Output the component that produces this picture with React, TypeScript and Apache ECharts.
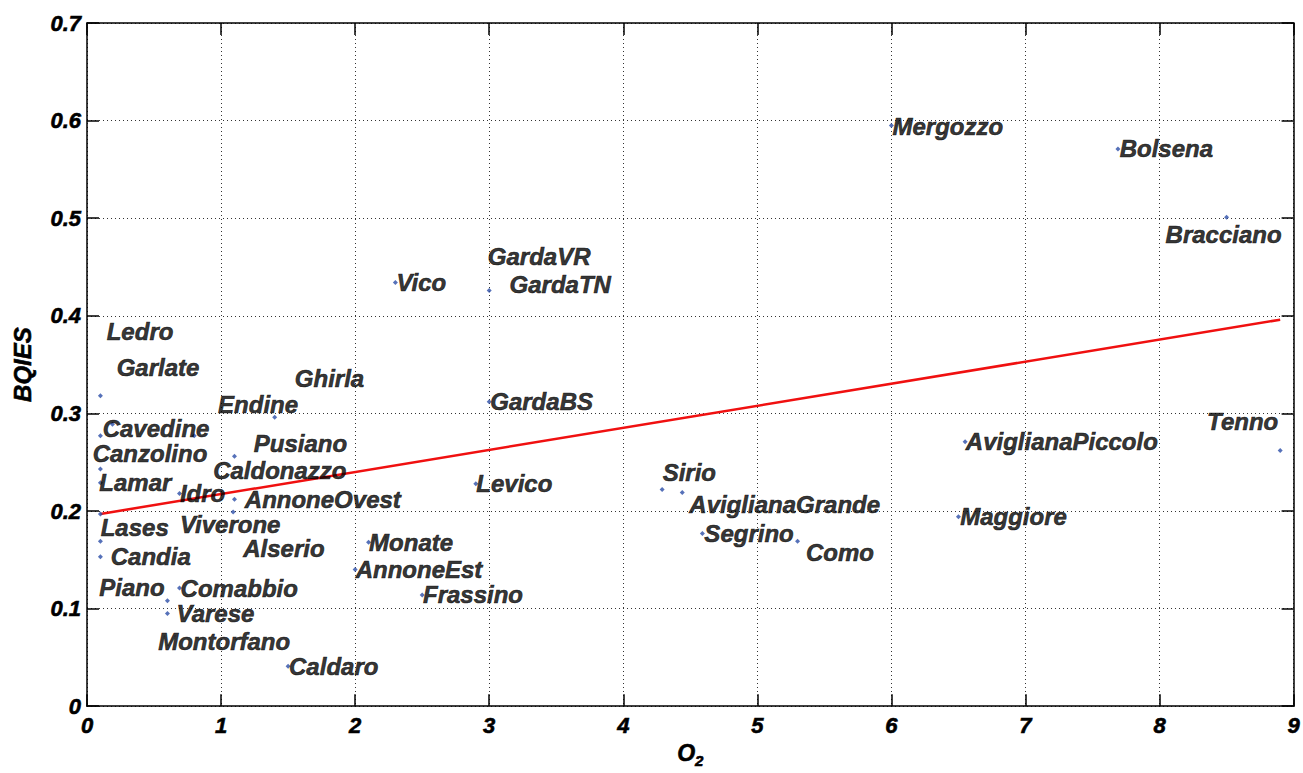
import React, { useEffect, useRef } from "react";
import * as echarts from "echarts";

// Measured lakes (O2, BQIES)
const pointX = [0.1, 0.19, 0.1, 0.8, 1.4, 1.1, 0.1, 0.1, 0.69, 1.1, 1.09, 0.1, 0.1, 0.1, 0.69, 0.6, 0.6, 1.5, 2.1, 2.0, 2.3, 3.0, 3.0, 2.9, 2.5, 4.29, 4.44, 4.59, 5.3, 6.0, 7.69, 8.5, 6.55, 8.9, 6.5];
const pointY = [0.318, 0.289, 0.277, 0.277, 0.296, 0.256, 0.243, 0.229, 0.218, 0.212, 0.199, 0.197, 0.169, 0.153, 0.121, 0.108, 0.095, 0.041, 0.168, 0.14, 0.434, 0.426, 0.312, 0.228, 0.114, 0.222, 0.219, 0.177, 0.169, 0.595, 0.571, 0.501, 0.271, 0.262, 0.194];

// Lake names and where their labels were placed
const labelNames = ["Ledro", "Garlate", "Ghirla", "Endine", "Cavedine", "Canzolino", "Pusiano", "Caldonazzo", "Lamar", "Idro", "AnnoneOvest", "Lases", "Viverone", "Alserio", "Candia", "Piano", "Comabbio", "Varese", "Montorfano", "Caldaro", "GardaVR", "Vico", "GardaTN", "GardaBS", "Levico", "Monate", "AnnoneEst", "Frassino", "Sirio", "AviglianaGrande", "Segrino", "Como", "Mergozzo", "Bolsena", "Bracciano", "Tenno", "AviglianaPiccolo", "Maggiore"];
const labelX = [0.147, 0.221, 1.55, 0.978, 0.117, 0.042, 1.244, 0.941, 0.092, 0.693, 1.177, 0.102, 0.693, 1.165, 0.177, 0.092, 0.698, 0.668, 0.531, 1.507, 2.99, 2.308, 3.152, 3.008, 2.904, 2.104, 2.004, 2.506, 4.294, 4.493, 4.605, 5.363, 6.008, 7.703, 8.045, 8.355, 6.555, 6.513];
const labelY = [0.384, 0.347, 0.336, 0.309, 0.285, 0.259, 0.269, 0.241, 0.229, 0.218, 0.212, 0.183, 0.186, 0.162, 0.153, 0.122, 0.121, 0.095, 0.066, 0.041, 0.461, 0.434, 0.432, 0.312, 0.228, 0.168, 0.14, 0.114, 0.239, 0.207, 0.177, 0.157, 0.594, 0.571, 0.483, 0.292, 0.271, 0.194];

// Regression line endpoints
const fitX = [0.1, 8.9];
const fitY = [0.197, 0.396];

const xTicks = { min: 0, max: 9, interval: 1 };
const yTicks = { min: 0, max: 0.7, interval: 0.1 };

const FONT = "Liberation Sans, Arial, sans-serif";

export default function App() {
  const ref = useRef<HTMLDivElement>(null);
  useEffect(() => {
    if (!ref.current) return;
    const chart = echarts.init(ref.current, undefined, { renderer: "svg" });
    const axisCommon = {
      axisLine: { show: true, onZero: false, lineStyle: { color: "#000", width: 1.5 } },
      axisTick: { show: true, inside: true, length: 12, lineStyle: { color: "#000", width: 1.5 } },
    };
    const tickLabel = {
      color: "#000",
      fontFamily: FONT,
      fontWeight: "bold" as const,
      fontStyle: "italic" as const,
      fontSize: 22,
      textBorderColor: "#000",
      textBorderWidth: 0.6,
    };
    chart.setOption({
      animation: false,
      backgroundColor: "#fff",
      grid: { left: 87, right: 8, top: 23, bottom: 66 },
      xAxis: [
        {
          type: "value",
          ...xTicks,
          ...axisCommon,
          axisLabel: { ...tickLabel, margin: 8 },
          splitLine: { show: true, lineStyle: { color: "#333", type: [1, 3], width: 1 } },
          name: "{o|O}{s|2}",
          nameLocation: "middle",
          nameGap: 28,
          nameTextStyle: {
            rich: {
              o: { ...tickLabel, fontSize: 23 },
              s: { ...tickLabel, fontSize: 15, verticalAlign: "bottom", padding: [14, 0, 0, 0] },
            },
          },
        },
        {
          type: "value",
          position: "top",
          ...xTicks,
          ...axisCommon,
          axisLabel: { show: false },
          splitLine: { show: false },
        },
      ],
      yAxis: [
        {
          type: "value",
          ...yTicks,
          ...axisCommon,
          axisLabel: { ...tickLabel, margin: 6, formatter: (v: number) => (v === 0 ? "0" : v.toFixed(1)) },
          splitLine: { show: true, lineStyle: { color: "#333", type: [1, 3], width: 1 } },
          name: "BQIES",
          nameLocation: "middle",
          nameGap: 53,
          nameTextStyle: { ...tickLabel, fontSize: 24 },
        },
        {
          type: "value",
          position: "right",
          ...yTicks,
          ...axisCommon,
          axisLabel: { show: false },
          splitLine: { show: false },
        },
      ],
      series: [
        {
          type: "line",
          data: fitX.map((x, i) => [x, fitY[i]]),
          symbol: "none",
          lineStyle: { color: "#f01010", width: 2.5 },
          z: 3,
        },
        {
          type: "scatter",
          data: pointX.map((x, i) => [x, pointY[i]]),
          symbol: "diamond",
          symbolSize: 5,
          itemStyle: { color: "#2c4ea8" },
          z: 4,
        },
        {
          type: "scatter",
          data: labelNames.map((n, i) => ({ name: n, value: [labelX[i], labelY[i]] })),
          symbolSize: 0,
          silent: true,
          label: {
            show: true,
            position: "right",
            distance: 0,
            formatter: (p: any) => p.name,
            color: "#000",
            fontFamily: FONT,
            fontWeight: "bold",
            fontStyle: "italic",
            fontSize: 24,
            textBorderColor: "#000",
            textBorderWidth: 0.6,
          },
          z: 5,
        },
      ],
    });
    return () => chart.dispose();
  }, []);
  return <div ref={ref} style={{ position: "absolute", left: 0, top: 0, width: 1303, height: 773 }} />;
}
